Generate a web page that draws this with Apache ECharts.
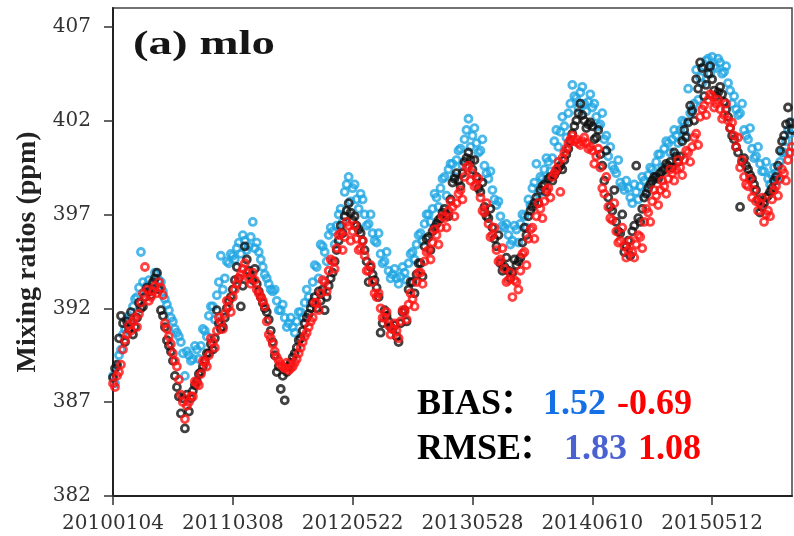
<!DOCTYPE html>
<html>
<head>
<meta charset="utf-8">
<script src="https://cdn.jsdelivr.net/npm/echarts@6/dist/echarts.min.js"></script>
<style>
  html, body { margin: 0; padding: 0; background: #ffffff; }
  #chart { width: 794px; height: 536px; }
</style>
</head>
<body>
<div id="chart"></div>
<script>
// Dates shown under the x axis, one every tickStep samples
const tickDates = ['20100104', '20110308', '20120522', '20130528', '20140610', '20150512'];
const tickStep = 60;
const yTicks = [382, 387, 392, 397, 402, 407];

// CO2 mixing ratios (ppm) at Mauna Loa, one value per sample
const observed = [
  388.3, 388.8, 389.0, 390.4, 391.6, 391.2, 390.2, 391.3, 390.9, 391.8, 390.6, 391.0, 391.5, 392.3, 392.0, 392.1, 392.6, 393.1, 392.9, 392.7,
  393.4, 393.6, 393.9, 393.0, 391.9, 391.6, 391.0, 390.3, 390.0, 389.7, 389.2, 388.4, 387.8, 387.3, 386.4, 387.2, 385.6, 387.4, 386.5, 387.2,
  387.6, 387.9, 388.1, 388.5, 388.6, 388.9, 389.2, 389.6, 389.6, 390.1, 389.8, 390.4, 391.9, 391.2, 390.9, 391.0, 391.5, 392.0, 392.4, 392.6,
  393.0, 393.5, 394.2, 393.6, 392.1, 393.2, 395.3, 394.6, 394.0, 393.7, 393.5, 394.1, 393.3, 392.9, 392.6, 392.3, 392.0, 391.8, 391.4, 390.8,
  390.2, 389.5, 388.6, 388.9, 387.7, 388.4, 387.1, 388.6, 388.9, 389.1, 389.4, 389.6, 389.9, 390.3, 390.4, 390.8, 391.2, 391.5, 391.7, 392.0,
  392.3, 392.6, 392.0, 392.9, 392.4, 393.0, 391.9, 392.6, 393.2, 393.6, 393.9, 394.5, 395.1, 395.6, 396.4, 396.0, 396.9, 397.2, 397.6, 397.1,
  396.7, 396.9, 396.4, 396.2, 396.0, 395.6, 395.1, 394.5, 393.4, 394.2, 393.8, 393.5, 393.1, 392.6, 390.7, 391.2, 391.9, 391.6, 391.3, 391.0,
  390.9, 391.1, 390.5, 390.2, 391.2, 391.8, 391.9, 391.3, 393.0, 393.4, 393.4, 392.8, 393.8, 394.4, 394.4, 393.7, 395.3, 395.7, 395.8, 395.1,
  396.1, 396.3, 396.5, 396.7, 396.8, 397.1, 397.3, 397.0, 396.9, 397.8, 398.7, 398.9, 399.2, 398.8, 398.5, 399.2, 399.8, 400.0, 400.3, 399.9,
  399.4, 399.9, 399.0, 398.4, 398.2, 398.7, 397.4, 396.9, 396.8, 397.3, 396.3, 395.7, 395.3, 395.9, 394.4, 394.0, 394.2, 394.7, 394.0, 393.6,
  393.9, 394.6, 394.3, 394.5, 394.7, 395.5, 396.3, 395.9, 396.9, 397.2, 397.4, 397.6, 397.9, 397.6, 398.3, 398.5, 398.6, 398.2, 398.9, 399.0,
  398.8, 399.1, 399.3, 399.5, 399.6, 399.4, 399.9, 400.2, 400.5, 400.9, 401.3, 401.7, 402.0, 402.4, 402.9, 402.3, 402.0, 401.6, 401.8, 401.9,
  401.7, 401.0, 401.1, 401.5, 400.2, 399.6, 398.8, 400.4, 397.9, 397.4, 397.2, 398.3, 396.6, 396.1, 396.0, 397.0, 395.0, 395.3, 395.6, 394.8,
  396.1, 396.4, 399.6, 396.8, 396.6, 397.3, 397.9, 398.1, 398.4, 398.6, 398.8, 399.0, 399.0, 398.9, 399.2, 399.3, 399.4, 399.7, 399.6, 399.8,
  399.5, 400.3, 400.1, 399.8, 400.1, 400.9, 401.5, 401.1, 401.9, 402.8, 402.5, 402.0, 404.2, 403.7, 405.1, 404.8, 403.3, 403.9, 404.5, 404.9,
  404.2, 403.6, 403.3, 403.5, 403.8, 403.4, 403.0, 402.6, 402.2, 401.6, 401.2, 401.0, 400.6, 400.3, 397.4, 399.8, 400.0, 399.6, 399.4, 399.1,
  398.9, 398.6, 398.3, 397.8, 397.1, 397.4, 397.6, 397.9, 398.0, 398.2, 398.4, 398.8, 399.0, 399.6, 400.4, 400.9, 401.2, 401.8, 402.7, 401.9, 401.5
];

const simBlue = [
  388.4, 388.0, 388.9, 389.5, 389.8, 390.6, 390.9, 391.4, 391.6, 391.2, 392.1, 392.5, 392.6, 393.1, 395.0, 393.4, 392.9, 393.2, 393.5, 393.0,
  393.3, 393.9, 393.8, 393.5, 393.4, 392.9, 392.5, 392.2, 391.9, 391.5, 391.3, 390.9, 390.7, 390.5, 390.2, 389.6, 388.4, 389.7, 389.5, 389.2,
  389.3, 390.0, 389.8, 389.3, 390.0, 390.9, 390.8, 390.5, 391.6, 392.1, 392.1, 391.4, 392.7, 393.4, 394.8, 393.0, 393.6, 394.5, 394.4, 394.9,
  394.8, 394.6, 395.2, 395.5, 394.9, 395.9, 395.6, 395.1, 395.3, 395.8, 396.6, 395.2, 395.5, 395.0, 394.6, 394.2, 393.8, 393.6, 393.3, 393.0,
  392.9, 393.0, 392.4, 391.9, 391.9, 392.2, 391.5, 391.0, 391.2, 391.5, 391.0, 390.7, 391.3, 391.8, 391.8, 391.5, 392.3, 393.0, 392.6, 392.3,
  393.4, 394.3, 394.2, 393.6, 395.4, 395.3, 395.0, 394.5, 395.9, 396.3, 396.1, 395.4, 396.4, 397.0, 397.3, 396.6, 398.2, 398.6, 399.0, 397.7,
  398.4, 398.6, 397.8, 397.3, 398.1, 397.8, 397.0, 396.4, 396.5, 397.0, 396.0, 395.6, 395.5, 396.0, 394.9, 394.4, 394.5, 395.0, 394.0, 393.6,
  393.8, 394.1, 393.6, 393.3, 393.7, 394.2, 393.9, 393.5, 394.4, 394.9, 395.0, 394.6, 395.4, 395.9, 396.0, 395.6, 396.5, 397.0, 397.0, 396.6,
  397.3, 398.1, 397.9, 397.4, 398.4, 398.9, 399.0, 398.0, 399.4, 399.7, 399.7, 399.0, 399.9, 400.4, 400.5, 399.6, 401.0, 401.5, 402.1, 400.6,
  401.2, 401.6, 400.8, 400.3, 400.4, 401.0, 399.6, 399.2, 398.9, 399.3, 398.3, 397.8, 397.5, 397.7, 396.9, 396.4, 396.3, 396.5, 395.9, 395.4,
  395.6, 396.4, 396.2, 395.5, 396.5, 397.0, 396.9, 396.3, 397.8, 397.5, 398.4, 398.7, 399.7, 398.1, 399.0, 398.9, 399.4, 400.0, 399.8, 399.3,
  400.0, 400.9, 401.5, 400.6, 401.4, 402.2, 401.7, 401.1, 402.4, 402.9, 403.9, 403.3, 403.2, 402.7, 403.5, 403.8, 402.9, 402.5, 403.0, 403.4,
  402.7, 402.9, 402.2, 401.7, 401.8, 402.4, 401.0, 401.2, 400.1, 400.6, 399.6, 399.4, 399.2, 399.9, 398.7, 398.5, 398.3, 398.8, 398.4, 397.9,
  397.6, 398.6, 398.2, 397.8, 398.5, 399.0, 398.8, 398.2, 399.1, 399.5, 399.4, 398.9, 399.8, 400.2, 400.2, 399.5, 400.5, 400.9, 400.8, 400.3,
  401.0, 401.5, 401.2, 400.8, 401.5, 402.0, 401.9, 401.2, 403.7, 402.4, 402.6, 402.9, 404.7, 403.1, 404.3, 404.0, 404.9, 405.2, 405.3, 404.5,
  405.4, 404.9, 404.8, 405.3, 405.1, 404.5, 404.6, 404.9, 404.0, 403.6, 402.9, 403.3, 402.6, 402.3, 402.4, 402.9, 401.5, 401.2, 401.0, 401.6,
  400.5, 400.0, 400.1, 400.6, 399.7, 399.3, 399.3, 399.8, 398.9, 398.6, 399.1, 399.5, 399.2, 398.8, 399.8, 400.3, 400.3, 400.9, 401.5, 401.3, 401.9
];

const simRed = [
  388.0, 387.8, 388.4, 388.6, 389.0, 389.8, 390.3, 390.6, 391.1, 390.8, 391.3, 391.5, 391.0, 391.7, 392.3, 392.8, 394.2, 393.0, 392.4, 392.6,
  392.9, 393.2, 392.8, 393.4, 393.1, 392.7, 391.2, 390.9, 390.5, 390.1, 389.6, 389.2, 388.9, 388.2, 387.4, 387.0, 386.1, 386.8, 387.0, 387.3,
  387.3, 388.1, 388.0, 387.9, 388.5, 389.2, 389.1, 388.9, 389.5, 390.4, 390.2, 389.9, 390.8, 391.5, 391.3, 390.9, 391.7, 392.4, 392.1, 391.8,
  392.6, 393.0, 393.3, 393.6, 393.8, 394.1, 394.4, 393.9, 393.6, 393.3, 393.9, 393.5, 393.0, 392.8, 392.6, 392.4, 392.1, 391.3, 390.6, 390.4,
  390.1, 389.7, 389.4, 389.2, 389.0, 388.9, 388.8, 389.1, 388.7, 388.8, 388.9, 389.1, 389.3, 389.6, 389.9, 390.2, 390.5, 390.7, 391.0, 391.3,
  391.5, 392.3, 392.3, 391.9, 392.8, 393.5, 393.4, 392.9, 394.0, 394.6, 394.5, 394.1, 395.2, 395.9, 396.0, 395.1, 395.8, 396.6, 396.4, 395.6,
  396.1, 396.4, 395.7, 395.1, 395.2, 395.6, 394.8, 394.0, 394.0, 394.3, 393.4, 392.8, 392.6, 392.8, 392.0, 391.5, 391.5, 391.8, 391.1, 390.6,
  390.9, 391.2, 390.8, 390.4, 391.3, 391.9, 391.8, 391.4, 392.2, 392.8, 392.5, 392.1, 393.4, 393.9, 393.9, 393.3, 394.5, 395.0, 395.1, 394.6,
  395.5, 396.2, 395.9, 395.4, 396.3, 396.9, 396.8, 396.3, 397.2, 397.7, 397.4, 396.9, 397.6, 398.1, 398.3, 397.8, 399.0, 399.5, 399.6, 398.8,
  399.2, 398.5, 398.6, 398.9, 397.9, 397.2, 397.1, 397.6, 396.5, 395.8, 395.9, 396.3, 395.1, 394.5, 394.6, 395.2, 394.1, 393.4, 393.5, 393.9,
  392.6, 393.5, 393.4, 393.0, 394.0, 394.9, 395.0, 394.3, 395.7, 396.2, 396.3, 395.7, 396.9, 397.6, 397.3, 396.8, 397.7, 398.3, 398.4, 397.9,
  399.0, 399.2, 399.4, 399.8, 398.2, 400.0, 400.3, 400.5, 400.8, 401.0, 401.2, 400.9, 401.0, 400.8, 400.7, 400.9, 401.1, 400.8, 400.5, 400.6,
  400.4, 399.7, 400.1, 400.5, 399.5, 398.4, 398.1, 399.0, 397.4, 396.8, 396.7, 397.6, 396.1, 395.5, 395.6, 396.3, 395.3, 394.7, 395.1, 395.6,
  395.0, 394.7, 395.4, 395.9, 395.8, 395.2, 396.6, 397.3, 397.1, 396.6, 397.7, 398.3, 398.0, 397.5, 398.3, 398.8, 398.5, 398.1, 398.9, 399.4,
  399.2, 398.8, 399.4, 399.9, 399.5, 399.1, 399.9, 400.4, 400.3, 399.8, 400.6, 401.1, 401.3, 400.7, 402.2, 402.6, 402.8, 402.3, 403.1, 403.4,
  403.3, 402.7, 402.9, 403.1, 402.6, 402.1, 402.3, 402.9, 402.0, 401.6, 401.9, 401.2, 400.6, 401.1, 399.5, 399.9, 399.0, 398.6, 398.5, 398.9,
  397.9, 398.3, 397.7, 397.2, 397.6, 397.9, 396.6, 397.0, 397.2, 396.9, 397.8, 398.3, 398.5, 398.0, 398.9, 399.4, 399.2, 398.8, 399.9, 400.3, 400.6
];

// Error statistics of the two simulations against the observations
const biasValues = ['1.52', '-0.69'];
const rmseValues = ['1.83', '1.08'];

const colBlue = '#22a6e2';
const colRed = '#ff1414';
const colBlack = '#111111';

const tickPositions = tickDates.map((d, k) => k * tickStep);
const toPoints = arr => arr.map((v, i) => [i, v]);

function ringSeries(name, values, color) {
  return {
    name: name,
    type: 'scatter',
    data: toPoints(values),
    symbol: 'circle',
    symbolSize: 7,
    itemStyle: { color: 'rgba(0,0,0,0)', borderColor: color, borderWidth: 2.8 },
    emphasis: { disabled: true },
    animation: false
  };
}

const chart = echarts.init(document.getElementById('chart'), null, { renderer: 'canvas' });
chart.setOption({
  backgroundColor: '#ffffff',
  animation: false,
  grid: {
    left: 113, right: 2, top: 8, bottom: 40,
    show: true, borderColor: '#444', borderWidth: 1.5, backgroundColor: 'transparent'
  },
  xAxis: {
    type: 'value',
    min: 0,
    max: observed.length - 1,
    axisLine: { show: true, lineStyle: { color: '#222', width: 2 } },
    axisTick: { show: true, length: 9, customValues: tickPositions, lineStyle: { color: '#333', width: 1.5 } },
    axisLabel: {
      customValues: tickPositions,
      formatter: v => tickDates[Math.round(v / tickStep)],
      color: '#333', fontFamily: 'DejaVu Serif', fontSize: 20, margin: 18
    },
    splitLine: { show: false }
  },
  yAxis: {
    type: 'value',
    min: 382,
    max: 408,
    name: 'Mixing ratios (ppm)',
    nameLocation: 'middle',
    nameGap: 70,
    nameTextStyle: { fontFamily: 'Liberation Serif', fontWeight: 'bold', fontSize: 28, color: '#222' },
    axisLine: { show: true, lineStyle: { color: '#222', width: 2 } },
    axisTick: { show: true, length: 9, customValues: yTicks, lineStyle: { color: '#333', width: 1.5 } },
    axisLabel: {
      customValues: yTicks,
      color: '#333', fontFamily: 'DejaVu Serif', fontSize: 20, margin: 22
    },
    splitLine: { show: false }
  },
  series: [
    ringSeries('Simulation 1', simBlue, colBlue),
    ringSeries('Observed', observed, colBlack),
    ringSeries('Simulation 2', simRed, colRed)
  ],
  graphic: [
    {
      type: 'text', x: 133, y: 28, scaleX: 1.38, z: 10,
      style: { text: '(a) mlo', font: 'bold 34px "Liberation Serif"', fill: '#151515' }
    },
    {
      type: 'text', x: 417, y: 405, z: 10,
      style: { text: 'BIAS', font: 'bold 36px "Liberation Serif"', fill: '#000', verticalAlign: 'middle' }
    },
    {
      type: 'text', x: 500, y: 400, z: 10,
      style: { text: '\uFF1A', font: 'bold 34px "Noto Sans CJK SC"', fill: '#000', verticalAlign: 'middle' }
    },
    {
      type: 'text', x: 543, y: 405, z: 10,
      style: { text: biasValues[0], font: 'bold 36px "Liberation Serif"', fill: '#1570e6', verticalAlign: 'middle' }
    },
    {
      type: 'text', x: 617, y: 405, z: 10,
      style: { text: biasValues[1], font: 'bold 36px "Liberation Serif"', fill: '#ff0000', verticalAlign: 'middle' }
    },
    {
      type: 'text', x: 417, y: 450, z: 10,
      style: { text: 'RMSE', font: 'bold 36px "Liberation Serif"', fill: '#000', verticalAlign: 'middle' }
    },
    {
      type: 'text', x: 519, y: 445, z: 10,
      style: { text: '\uFF1A', font: 'bold 34px "Noto Sans CJK SC"', fill: '#000', verticalAlign: 'middle' }
    },
    {
      type: 'text', x: 564, y: 450, z: 10,
      style: { text: rmseValues[0], font: 'bold 36px "Liberation Serif"', fill: '#4a62d0', verticalAlign: 'middle' }
    },
    {
      type: 'text', x: 638, y: 450, z: 10,
      style: { text: rmseValues[1], font: 'bold 36px "Liberation Serif"', fill: '#ff0000', verticalAlign: 'middle' }
    }
  ]
});
</script>
</body>
</html>
